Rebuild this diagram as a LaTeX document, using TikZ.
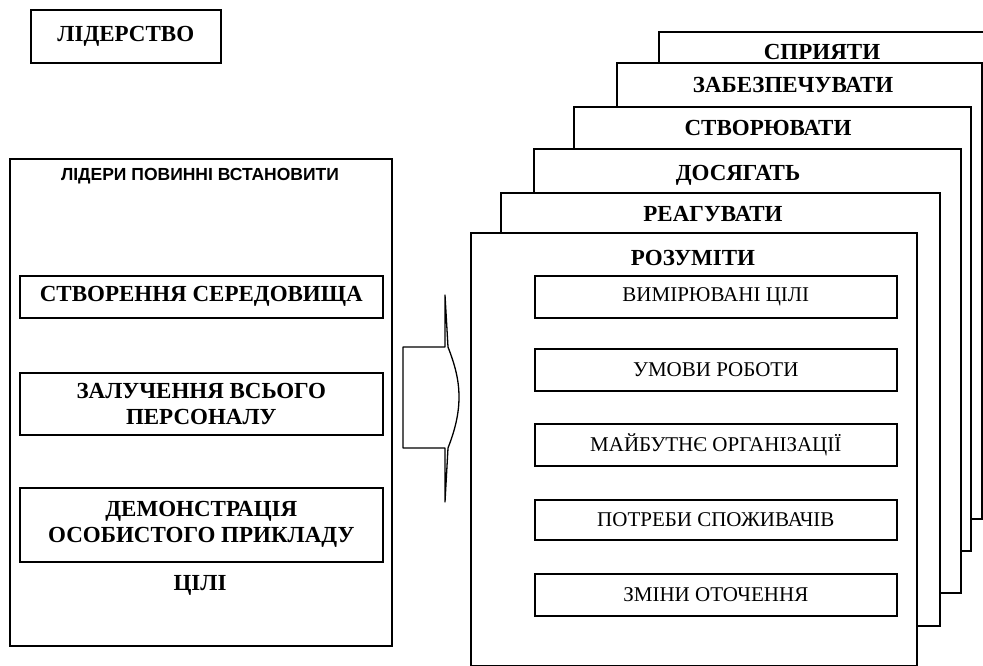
\documentclass[tikz,border=0pt]{standalone}
\usepackage{fontspec}
\setmainfont{Liberation Serif}
\newfontfamily\capsans{Liberation Sans}
\tikzset{
  frame/.style={draw, line width=1.6pt, fill=white, inner sep=0pt, anchor=north west},
  boldlbl/.style={font=\bfseries\fontsize{23}{26}\selectfont, align=center},
  smalllbl/.style={font=\fontsize{21}{24}\selectfont},
  title/.style={font=\bfseries\fontsize{23}{26}\selectfont, anchor=base, inner sep=0pt},
  arrowshape/.style={draw, line width=1.3pt, fill=white, line join=round},
}
\begin{document}
\begin{tikzpicture}[x=1pt,y=-1pt]
\clip (0,0) rectangle (983,666);
\fill[white] (0,0) rectangle (983,666);

% leadership tag
\node[frame, boldlbl, minimum width=190pt, minimum height=53pt] (lead) at (30,9) {ЛІДЕРСТВО};

% left panel: what leaders must set
\node[frame, minimum width=382pt, minimum height=487pt] (panel) at (9,158) {};
\node[font=\capsans\bfseries\fontsize{17.5}{20}\selectfont, anchor=base, inner sep=0pt] (must) at (200,181) {ЛІДЕРИ ПОВИННІ ВСТАНОВИТИ};
\node[frame, boldlbl, minimum width=363pt, minimum height=42pt] (env) at (19,275) {СТВОРЕННЯ СЕРЕДОВИЩА};
\node[frame, boldlbl, minimum width=363pt, minimum height=62pt] (staff) at (19,372) {ЗАЛУЧЕННЯ ВСЬОГО\\ПЕРСОНАЛУ};
\node[frame, boldlbl, minimum width=363pt, minimum height=74pt] (example) at (19,487) {ДЕМОНСТРАЦІЯ\\ОСОБИСТОГО ПРИКЛАДУ};
\node[title] (goals) at (200,590) {ЦІЛІ};

% block arrow between the panels
\coordinate (tailtop) at (403,347);
\coordinate (tailbot) at (403,448);
\path[arrowshape] (tailtop) -- (445,347) -- (445,295) -- (448,347)
  .. controls (455,365) and (459,380) .. (459,397)
  .. controls (459,414) and (455,430) .. (448,448)
  -- (445,502) -- (445,448) -- (tailbot) -- cycle;

% stack of pages, back to front
\node[frame, minimum width=340pt, minimum height=454pt] (p1) at (658,31) {};
\node[title] (t1) at (822,60) {СПРИЯТИ};
\node[frame, minimum width=365pt, minimum height=456pt] (p2) at (616,62) {};
\node[title] (t2) at (793,93) {ЗАБЕЗПЕЧУВАТИ};
\node[frame, minimum width=397pt, minimum height=444pt] (p3) at (573,106) {};
\node[title] (t3) at (768,136) {СТВОРЮВАТИ};
\node[frame, minimum width=427pt, minimum height=444pt] (p4) at (533,148) {};
\node[title] (t4) at (738,181) {ДОСЯГАТЬ};
\node[frame, minimum width=439pt, minimum height=433pt] (p5) at (500,192) {};
\node[title] (t5) at (713,221) {РЕАГУВАТИ};
\node[frame, minimum width=446pt, minimum height=433pt] (p6) at (470,232) {};
\node[title] (t6) at (693,265) {РОЗУМІТИ};

% items on the front page
\node[frame, smalllbl, minimum width=362pt, minimum height=42pt] (i1) at (534,275) {ВИМІРЮВАНІ ЦІЛІ};
\node[frame, smalllbl, minimum width=362pt, minimum height=42pt] (i2) at (534,348) {УМОВИ РОБОТИ};
\node[frame, smalllbl, minimum width=362pt, minimum height=42pt] (i3) at (534,423) {МАЙБУТНЄ ОРГАНІЗАЦІЇ};
\node[frame, smalllbl, minimum width=362pt, minimum height=40pt] (i4) at (534,499) {ПОТРЕБИ СПОЖИВАЧІВ};
\node[frame, smalllbl, minimum width=362pt, minimum height=42pt] (i5) at (534,573) {ЗМІНИ ОТОЧЕННЯ};
\end{tikzpicture}
\end{document}
